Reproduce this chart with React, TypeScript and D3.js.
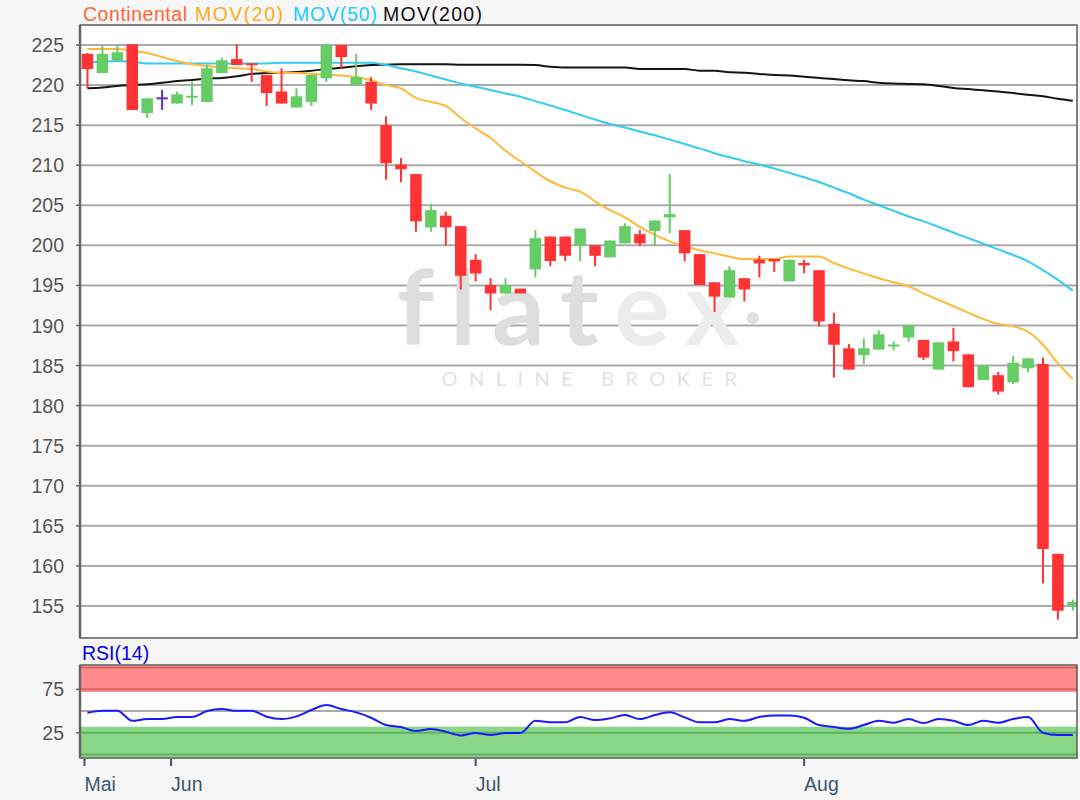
import React from "react";
import * as d3 from "d3";

// ---- Data ----
const open = [223.9, 221.5, 223.1, 225.1, 216.5, 218.35, 217.7, 218.5, 217.9, 221.5, 223.25, 222.7, 221.25, 219.2, 217.2, 217.9, 220.85, 225.0, 220.0, 220.4, 215.0, 210.1, 208.9, 202.25, 203.7, 202.4, 198.2, 195.05, 194.0, 194.6, 197.0, 201.1, 201.1, 200.0, 200.0, 198.5, 200.25, 201.4, 201.8, 203.5, 201.9, 198.9, 195.4, 193.5, 195.9, 198.2, 198.3, 195.5, 197.8, 196.9, 190.2, 187.15, 186.3, 187.0, 187.4, 188.5, 188.2, 184.5, 188.0, 186.4, 183.2, 183.8, 182.9, 184.65, 185.2, 161.5, 155.1];
const high = [224.0, 224.9, 225.0, 225.1, 218.35, 219.4, 219.2, 220.4, 222.5, 223.4, 225.1, 222.7, 221.25, 222.1, 219.6, 221.25, 225.2, 225.0, 223.9, 221.0, 216.1, 210.9, 208.9, 205.2, 204.2, 202.4, 198.9, 195.9, 195.9, 194.6, 201.9, 201.1, 201.1, 202.1, 200.0, 200.6, 202.75, 201.9, 203.1, 208.9, 201.9, 198.9, 195.4, 197.4, 195.9, 198.7, 198.3, 198.2, 198.2, 196.9, 191.6, 187.7, 188.4, 189.4, 188.0, 190.05, 188.2, 187.9, 189.7, 186.4, 185.05, 184.2, 186.2, 185.9, 186.0, 161.5, 155.8];
const low = [219.6, 221.5, 223.1, 216.9, 215.9, 216.9, 217.7, 217.5, 217.9, 221.5, 222.5, 220.4, 217.4, 217.7, 217.2, 217.4, 220.4, 222.1, 220.0, 216.9, 208.2, 207.9, 201.7, 201.7, 200.0, 194.5, 195.5, 191.9, 194.0, 194.0, 196.0, 197.4, 198.05, 198.0, 197.4, 198.5, 200.25, 199.9, 200.0, 201.5, 198.0, 195.05, 191.7, 193.5, 193.0, 196.0, 196.7, 195.5, 196.5, 189.85, 183.5, 184.5, 185.2, 187.0, 186.9, 188.0, 185.7, 184.5, 185.5, 182.3, 183.2, 181.4, 182.7, 184.2, 157.8, 153.3, 154.4];
const close = [222.0, 223.9, 224.1, 216.9, 218.35, 218.35, 218.85, 218.6, 222.1, 223.1, 222.5, 222.5, 219.0, 217.7, 218.6, 221.25, 225.0, 223.5, 221.0, 217.7, 210.25, 209.5, 203.0, 204.4, 202.25, 196.2, 196.5, 194.0, 195.05, 194.0, 200.9, 198.05, 198.7, 202.1, 198.7, 200.6, 202.4, 200.25, 203.1, 203.9, 199.0, 195.05, 193.6, 196.9, 194.5, 197.75, 198.0, 198.2, 197.5, 190.5, 187.6, 184.5, 187.15, 188.9, 187.6, 190.05, 186.0, 187.9, 186.8, 182.3, 185.05, 181.75, 185.35, 185.9, 162.1, 154.4, 155.5];

const mov20 = [224.5, 224.5, 224.5, 224.3, 224.0, 223.5, 223.0, 222.6, 222.4, 222.2, 222.1, 222.0, 221.7, 221.5, 221.5, 221.4, 221.3, 221.2, 221.0, 220.6, 220.0, 219.6, 218.4, 217.9, 217.4, 215.9, 214.6, 213.4, 211.8, 210.5, 209.2, 208.0, 207.2, 206.7, 205.5, 204.4, 203.5, 202.3, 201.3, 200.5, 199.9, 199.4, 199.0, 198.6, 198.3, 198.3, 198.3, 198.6, 198.6, 198.6, 197.8, 197.1, 196.5, 195.9, 195.4, 194.9, 194.0, 193.2, 192.4, 191.6, 190.8, 190.2, 189.9, 189.2, 187.6, 185.3, 183.3];
const mov50 = [222.85, 222.9, 223.0, 222.9, 222.7, 222.7, 222.7, 222.7, 222.7, 222.7, 222.7, 222.7, 222.7, 222.8, 222.8, 222.8, 222.8, 222.8, 222.8, 222.8, 222.5, 222.1, 221.7, 221.2, 220.7, 220.2, 219.8, 219.4, 218.95, 218.55, 218.0, 217.45, 216.9, 216.3, 215.7, 215.15, 214.7, 214.2, 213.75, 213.2, 212.65, 212.1, 211.5, 211.0, 210.5, 210.1, 209.6, 209.05, 208.5, 207.9, 207.2, 206.5, 205.7, 205.0, 204.3, 203.6, 203.0, 202.3, 201.6, 200.9, 200.2, 199.5, 198.8, 198.0, 196.9, 195.7, 194.35];
const mov200 = [219.6, 219.7, 219.9, 220.0, 220.1, 220.3, 220.5, 220.65, 220.8, 220.9, 221.1, 221.4, 221.5, 221.55, 221.65, 221.8, 222.0, 222.15, 222.35, 222.5, 222.55, 222.6, 222.6, 222.6, 222.6, 222.55, 222.55, 222.55, 222.55, 222.55, 222.5, 222.3, 222.2, 222.2, 222.2, 222.2, 222.2, 222.0, 222.0, 222.0, 222.0, 221.8, 221.8, 221.6, 221.55, 221.4, 221.25, 221.2, 221.05, 220.9, 220.75, 220.6, 220.5, 220.3, 220.2, 220.15, 220.1, 219.9, 219.65, 219.5, 219.35, 219.2, 219.0, 218.8, 218.6, 218.3, 218.05];
const rsi = [48.0, 50.3, 50.3, 38.8, 40.8, 40.8, 43.1, 43.1, 50.0, 52.3, 50.3, 50.3, 43.4, 40.8, 43.9, 51.2, 56.9, 52.3, 48.5, 42.3, 33.9, 31.6, 27.0, 29.3, 26.2, 22.0, 24.7, 22.4, 24.7, 24.7, 38.8, 37.0, 37.0, 43.1, 39.6, 41.6, 45.4, 40.8, 45.4, 48.5, 42.7, 37.0, 37.0, 40.8, 38.8, 43.1, 45.0, 45.0, 42.3, 33.9, 31.6, 29.6, 33.9, 38.8, 36.5, 40.8, 36.2, 40.8, 38.8, 33.9, 38.8, 36.5, 40.8, 43.1, 25.0, 22.4, 22.4];

const monthLabels = ["Mai", "Jun", "Jul", "Aug"];
const monthTickIndex = [-0.2, 5.6, 26, 48];
const priceTicks = [155, 160, 165, 170, 175, 180, 185, 190, 195, 200, 205, 210, 215, 220, 225];
const rsiTicks = [25, 75];
const rsiLines = [0, 25, 50, 75, 100];
const legendNames = ["Continental", "MOV(20)", "MOV(50)", "MOV(200)"];
const legendColors = ["#ff6633", "#ffaa22", "#22ccff", "#111111"];

const FONT = "'Liberation Sans', Arial, sans-serif";

// layout of legend entries (x start, rendered width)
const legendX = [83, 195, 293, 383];
const legendW = [104, 88, 84, 99];

export default function App() {
  const W = 1080;
  const H = 800;
  const L = 80;
  const R = 1077;
  const mainTop = 25;
  const mainBottom = 638;
  const rsiTop = 665;
  const rsiBottom = 758;
  const n = close.length;

  const x = d3.scaleLinear().domain([-0.5, n - 0.5]).range([L, 1080.3]);
  const step = x(1) - x(0);
  const y = d3.scaleLinear().domain([151, 227.5]).range([mainBottom, mainTop]);
  const yr = d3.scaleLinear().domain([-4, 103]).range([rsiBottom, rsiTop]);

  const line = (arr: number[], sc: d3.ScaleLinear<number, number>) =>
    d3.line<number>().x((_, i) => x(i)).y((d) => sc(d)).curve(d3.curveMonotoneX)(arr) || "";

  const bodyW = step * 0.77;

  return (
    <svg width={W} height={H} style={{ position: "absolute", left: 0, top: 0, background: "#f7f7f7" }} fontFamily={FONT}>
      <defs>
        <clipPath id="mainClip">
          <rect x={L} y={mainTop} width={R - L} height={mainBottom - mainTop} />
        </clipPath>
        <clipPath id="rsiClip">
          <rect x={L} y={rsiTop} width={R - L} height={rsiBottom - rsiTop} />
        </clipPath>
      </defs>
      <rect x={0} y={0} width={W} height={H} fill="#f7f7f7" />

      {/* legend */}
      {legendNames.map((nm, i) => (
        <text key={nm} x={legendX[i]} y={21} fontSize={19.5} fill={legendColors[i]}
          textLength={legendW[i]} lengthAdjust="spacing">{nm}</text>
      ))}

      {/* main panel */}
      <rect x={L} y={mainTop} width={R - L} height={mainBottom - mainTop} fill="#ffffff" />
      {priceTicks.map((t) => (
        <g key={t}>
          <line x1={L} x2={R} y1={y(t)} y2={y(t)} stroke="#aaaaaa" strokeWidth={2} />
          <line x1={L - 4} x2={L} y1={y(t)} y2={y(t)} stroke="#666" strokeWidth={1.5} />
          <text x={64} y={y(t)} dy="0.36em" textAnchor="end" fontSize={19.5} fill="#555">{t}</text>
        </g>
      ))}

      {/* watermark */}
      <g>
        <text x={576} y={345} textAnchor="middle" fontSize={104} fontFamily="Lato, 'DejaVu Sans', sans-serif" fontWeight={700} letterSpacing={16}>
          <tspan fill="#dedede">flat</tspan>
          <tspan fill="#ececec">ex</tspan>
        </text>
        <circle cx={753} cy={318} r={6} fill="#e0e0e0" />
        <text x={595} y={386} textAnchor="middle" fontSize={20} letterSpacing={11.5} fill="#e2e2e2" fontFamily="Lato, 'DejaVu Sans', sans-serif">ONLINE BROKER</text>
      </g>

      <g clipPath="url(#mainClip)">
        <path d={line(mov200, y)} fill="none" stroke="#151515" strokeWidth={2} />
        <path d={line(mov50, y)} fill="none" stroke="#33ccf5" strokeWidth={2} />
        <path d={line(mov20, y)} fill="none" stroke="#ffb838" strokeWidth={2} />

        {close.map((c, i) => {
          const o = open[i];
          const col = c > o ? "#66cc66" : c < o ? "#ff3333" : "#5533cc";
          const top = y(Math.max(o, c));
          const bot = y(Math.min(o, c));
          const h = Math.max(2, bot - top);
          const cx = x(i);
          return (
            <g key={i}>
              <line x1={cx} x2={cx} y1={y(high[i])} y2={y(low[i])} stroke={col} strokeWidth={2} />
              <rect x={cx - bodyW / 2} y={(top + bot) / 2 - h / 2} width={bodyW} height={h} fill={col} />
            </g>
          );
        })}
      </g>
      <rect x={L} y={mainTop} width={R - L} height={mainBottom - mainTop} fill="none" stroke="#5a5a5a" strokeWidth={1.5} />
      <line x1={L} x2={L} y1={mainTop} y2={mainBottom} stroke="#666" strokeWidth={2.5} />

      {/* RSI panel */}
      <text x={82} y={660} fontSize={19.5} fill="#0000ee">RSI(14)</text>
      <rect x={L} y={rsiTop} width={R - L} height={rsiBottom - rsiTop} fill="#ffffff" />
      <g clipPath="url(#rsiClip)">
        <rect x={L} y={yr(102)} width={R - L} height={yr(72) - yr(102)} fill="#ff8a8a" />
        <rect x={L} y={yr(32)} width={R - L} height={yr(-3.5) - yr(32)} fill="#88d888" />
        {rsiLines.map((t) => (
          <line key={t} x1={L} x2={R} y1={yr(t)} y2={yr(t)}
            stroke={t === 50 ? "#aaaaaa" : t > 50 ? "#dd6464" : "#5fb05f"} strokeWidth={2} />
        ))}
        <path d={line(rsi, yr)} fill="none" stroke="#1a1aff" strokeWidth={2} />
      </g>
      {rsiTicks.map((t) => (
        <g key={t}>
          <line x1={L - 4} x2={L} y1={yr(t)} y2={yr(t)} stroke="#666" strokeWidth={1.5} />
          <text x={64} y={yr(t)} dy="0.36em" textAnchor="end" fontSize={19.5} fill="#555">{t}</text>
        </g>
      ))}
      <rect x={L} y={rsiTop} width={R - L} height={rsiBottom - rsiTop} fill="none" stroke="#5a5a5a" strokeWidth={1.5} />
      <line x1={L} x2={L} y1={rsiTop} y2={rsiBottom} stroke="#666" strokeWidth={2.5} />

      {/* x axis */}
      {monthLabels.map((m, i) => {
        const px = x(monthTickIndex[i]);
        return (
          <g key={m}>
            <line x1={px} x2={px} y1={rsiBottom + 1} y2={rsiBottom + 8} stroke="#3d566e" strokeWidth={2} />
            <text x={px} y={791} fontSize={19.5} fill="#3d566e">{m}</text>
          </g>
        );
      })}
    </svg>
  );
}
